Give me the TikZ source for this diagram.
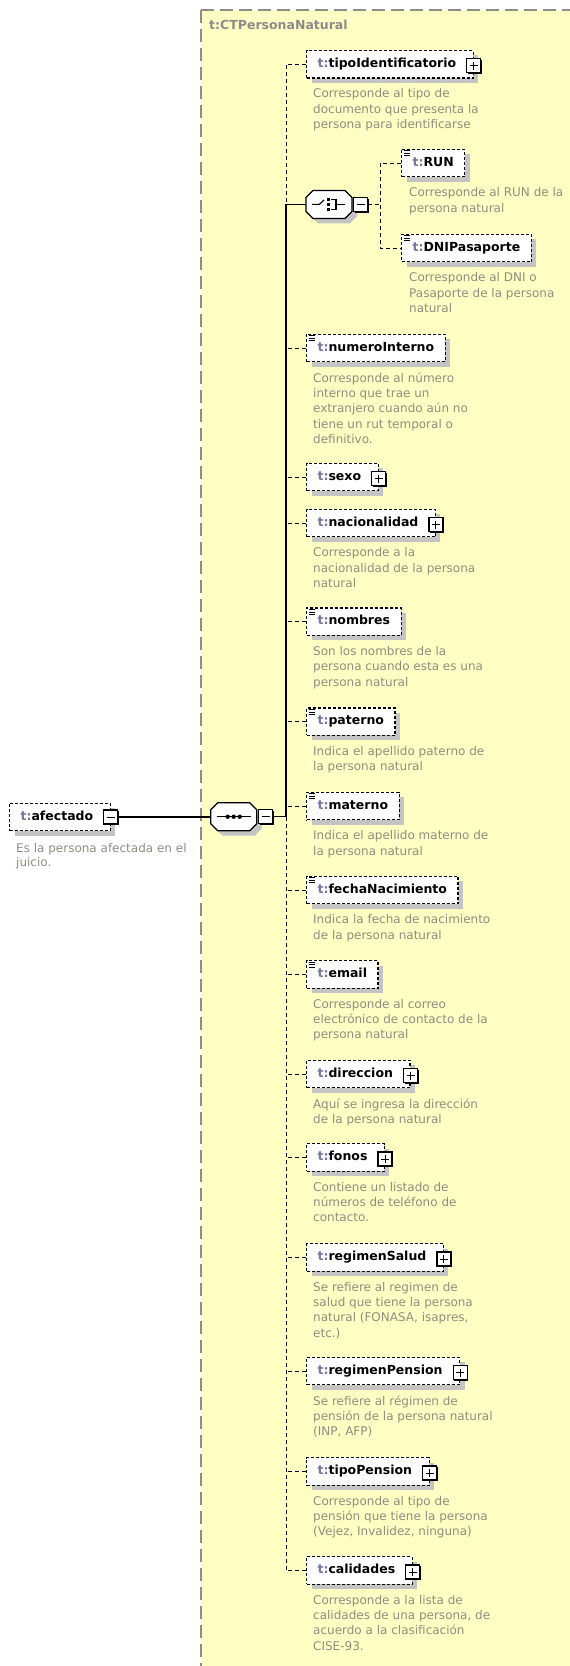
\documentclass[tikz,border=0pt]{standalone}
\usepackage{fontspec}
\setmainfont{DejaVu Sans}
\usepackage{tikz}
\usetikzlibrary{calc,positioning,shadows}
\definecolor{fondo}{HTML}{FFFFC4}
\definecolor{marco}{HTML}{8C8C8C}
\definecolor{prefijo}{HTML}{76769A}
\definecolor{gristexto}{HTML}{8E8E80}
\definecolor{sombra}{HTML}{C4C4C4}
\definecolor{titulo}{HTML}{8A8A8A}
\newcommand\tn[1]{{\color{prefijo}t:}#1}
\newcommand\lineas[1]{%
  \draw[icono] ([shift={(2.5pt,-2.2pt)}]#1.north west) -- ([shift={(8.5pt,-2.2pt)}]#1.north west)
    ([shift={(2.5pt,-4.6pt)}]#1.north west) -- ([shift={(8.5pt,-4.6pt)}]#1.north west)
    ([shift={(2.5pt,-7pt)}]#1.north west) -- ([shift={(8.5pt,-7pt)}]#1.north west);}

\begin{document}
\begin{tikzpicture}[x=1pt,y=-1pt,
    elemento/.style={draw=black, line width=1.1pt, dash pattern=on 3pt off 2pt, fill=white,
      font=\fontsize{12.5}{15}\selectfont\bfseries, inner xsep=11pt, inner ysep=0pt,
      minimum height=27.5pt, text height=9pt, text depth=2.5pt, anchor=west,
      general shadow={fill=sombra, shadow xshift=5pt, shadow yshift=-5pt}},
    conmas/.style={elemento, execute at end node={\hspace{6pt}}},
    icono/.style={line width=1pt, solid},
    nota/.style={anchor=north west, inner sep=0pt, align=left, text=gristexto,
      font=\fontsize{12}{15.3}\selectfont},
    compositor/.style={minimum width=46pt, minimum height=28pt, inner sep=0pt},
    octogono/.style={draw, line width=1.2pt, fill=white,
      general shadow={fill=sombra, shadow xshift=5pt, shadow yshift=-5pt}},
    menos/.style={draw, fill=white, line width=1.2pt, minimum size=14pt, inner sep=0pt,
      general shadow={fill=black, shadow xshift=1.2pt, shadow yshift=-1.2pt},
      path picture={\draw[line width=1pt] ([xshift=3pt]path picture bounding box.west) -- ([xshift=-3pt]path picture bounding box.east);}},
    mas/.style={menos,
      path picture={\draw[line width=1pt] ([xshift=3pt]path picture bounding box.west) -- ([xshift=-3pt]path picture bounding box.east)
        ([yshift=-3pt]path picture bounding box.north) -- ([yshift=3pt]path picture bounding box.south);}},
    linea/.style={line width=1.2pt},
    guion/.style={line width=1pt, dash pattern=on 4pt off 3pt}]
  \useasboundingbox (0,0) rectangle (570,1666);
  \fill[fondo] (201,10) rectangle (570,1666);
  \draw[marco, line width=1.2pt, dash pattern=on 13pt off 6pt] (201,10) -- (570,10);
  \draw[marco, line width=1.2pt, dash pattern=on 13pt off 6pt] (201,10) -- (201,1666);
  \node[anchor=west, inner sep=0pt, text=titulo, font=\fontsize{12.5}{15}\selectfont\bfseries] (tipoCT) at (209,25) {t:CTPersonaNatural};
  \coordinate (eje) at (286,0);
  \coordinate (rama) at (380,0);

  \node[conmas] (afectado) at (9,817) {\tn{afectado}};
  \node[menos] (afectadoM) at (afectado.east) {};
  \node[nota, font=\fontsize{12}{14}\selectfont] (afectadoD) at (16,843) {Es la persona afectada en el\\juicio.};

  \node[compositor] (sec) at (233.7,816.7) {};
  \draw[octogono, shift={(sec.center)}] (-16,-14) -- (16,-14) -- (23,-7) -- (23,7) -- (16,14) -- (-16,14) -- (-23,7) -- (-23,-7) -- cycle;
  \node[menos, anchor=west] (secM) at ([xshift=1pt]sec.east) {};
  \draw[linea] ([xshift=-17pt]sec.center) -- ([xshift=17pt]sec.center);
  \fill ([xshift=-6pt]sec.center) circle (2.2);
  \fill (sec.center) circle (2.2);
  \fill ([xshift=6pt]sec.center) circle (2.2);

  \node[compositor] (elec) at (329,204.4) {};
  \draw[octogono, shift={(elec.center)}] (-16,-14) -- (16,-14) -- (23,-7) -- (23,7) -- (16,14) -- (-16,14) -- (-23,7) -- (-23,-7) -- cycle;
  \node[menos, anchor=west] (elecM) at ([xshift=1pt]elec.east) {};
  \begin{scope}[shift={(elec.center)}, line width=1.1pt]
    \draw (-17,0) -- (-9.7,0) -- (-5,-4.4);
    \fill (-2,-6.2) rectangle (0.6,-3.6);
    \fill (-2,-1.3) rectangle (0.6,1.3);
    \fill (-2,3.6) rectangle (0.6,6.2);
    \draw (2,-5) -- (7,-5) -- (7,5) -- (2,5);
    \draw (7,0) -- (16,0);
  \end{scope}

  \node[conmas] (tipo) at (306,64.2) {\tn{tipoIdentificatorio}};
  \node[mas] (tipoM) at ([yshift=-1.5pt]tipo.east) {};
  \node[nota] (tipoD) at (313,88.5) {Corresponde al tipo de\\documento que presenta la\\persona para identificarse};

  \node[elemento] (run) at (401,163) {\tn{RUN}};
  \lineas{run}
  \node[nota] (runD) at (409,187.5) {Corresponde al RUN de la\\persona natural};

  \node[elemento] (dni) at (401,248) {\tn{DNIPasaporte}};
  \lineas{dni}
  \node[nota] (dniD) at (409,272.5) {Corresponde al DNI o\\Pasaporte de la persona\\natural};

  \node[elemento] (numero) at (306,348) {\tn{numeroInterno}};
  \lineas{numero}
  \node[nota] (numeroD) at (313,372.5) {Corresponde al número\\interno que trae un\\extranjero cuando aún no\\tiene un rut temporal o\\definitivo.};

  \node[conmas] (sexo) at (306,477) {\tn{sexo}};
  \node[mas] (sexoM) at ([yshift=-1.5pt]sexo.east) {};

  \node[conmas] (nacion) at (306,523) {\tn{nacionalidad}};
  \node[mas] (nacionM) at ([yshift=-1.5pt]nacion.east) {};
  \node[nota] (nacionD) at (313,547.5) {Corresponde a la\\nacionalidad de la persona\\natural};

  \node[elemento] (nombres) at (306,621.7) {\tn{nombres}};
  \lineas{nombres}
  \node[nota] (nombresD) at (313,646.2) {Son los nombres de la\\persona cuando esta es una\\persona natural};

  \node[elemento] (paterno) at (306,721.7) {\tn{paterno}};
  \lineas{paterno}
  \node[nota] (paternoD) at (313,746.2) {Indica el apellido paterno de\\la persona natural};

  \node[elemento] (materno) at (306,806) {\tn{materno}};
  \lineas{materno}
  \node[nota] (maternoD) at (313,830.5) {Indica el apellido materno de\\la persona natural};

  \node[elemento] (fecha) at (306,890) {\tn{fechaNacimiento}};
  \lineas{fecha}
  \node[nota] (fechaD) at (313,914.5) {Indica la fecha de nacimiento\\de la persona natural};

  \node[elemento] (email) at (306,974.5) {\tn{email}};
  \lineas{email}
  \node[nota] (emailD) at (313,999) {Corresponde al correo\\electrónico de contacto de la\\persona natural};

  \node[conmas] (direccion) at (306,1074) {\tn{direccion}};
  \node[mas] (direccionM) at ([yshift=-1.5pt]direccion.east) {};
  \node[nota] (direccionD) at (313,1098.5) {Aquí se ingresa la dirección\\de la persona natural};

  \node[conmas] (fonos) at (306,1157.5) {\tn{fonos}};
  \node[mas] (fonosM) at ([yshift=-1.5pt]fonos.east) {};
  \node[nota] (fonosD) at (313,1182) {Contiene un listado de\\números de teléfono de\\contacto.};

  \node[conmas] (salud) at (306,1257.5) {\tn{regimenSalud}};
  \node[mas] (saludM) at ([yshift=-1.5pt]salud.east) {};
  \node[nota] (saludD) at (313,1282) {Se refiere al regimen de\\salud que tiene la persona\\natural (FONASA, isapres,\\etc.)};

  \node[conmas] (pension) at (306,1371) {\tn{regimenPension}};
  \node[mas] (pensionM) at ([yshift=-1.5pt]pension.east) {};
  \node[nota] (pensionD) at (313,1395.5) {Se refiere al régimen de\\pensión de la persona natural\\(INP, AFP)};

  \node[conmas] (tipopension) at (306,1471.5) {\tn{tipoPension}};
  \node[mas] (tipopensionM) at ([yshift=-1.5pt]tipopension.east) {};
  \node[nota] (tipopensionD) at (313,1496) {Corresponde al tipo de\\pensión que tiene la persona\\(Vejez, Invalidez, ninguna)};

  \node[conmas] (calidades) at (306,1570.5) {\tn{calidades}};
  \node[mas] (calidadesM) at ([yshift=-1.5pt]calidades.east) {};
  \node[nota] (calidadesD) at (313,1595) {Corresponde a la lista de\\calidades de una persona, de\\acuerdo a la clasificación\\CISE-93.};

  \draw[linea] (afectadoM.east) -- (afectadoM.east -| sec.west);
  \draw[linea] (secM.east) -- (eje |- secM.east);
  \draw[guion] (tipo.west) -| (eje |- elec.west);
  \draw[linea] (elec.west) -| (eje |- secM.east);
  \draw[guion] (eje |- secM.east) |- (calidades.west);
  \draw[guion] (elecM.east) -- (rama |- elecM.east);
  \draw[guion] (run.west) -| (rama |- dni.west) -- (dni.west);
  \draw[guion] (numero.west) -- (eje |- numero.west);
  \draw[guion] (sexo.west) -- (eje |- sexo.west);
  \draw[guion] (nacion.west) -- (eje |- nacion.west);
  \draw[guion] (nombres.west) -- (eje |- nombres.west);
  \draw[guion] (paterno.west) -- (eje |- paterno.west);
  \draw[guion] (materno.west) -- (eje |- materno.west);
  \draw[guion] (fecha.west) -- (eje |- fecha.west);
  \draw[guion] (email.west) -- (eje |- email.west);
  \draw[guion] (direccion.west) -- (eje |- direccion.west);
  \draw[guion] (fonos.west) -- (eje |- fonos.west);
  \draw[guion] (salud.west) -- (eje |- salud.west);
  \draw[guion] (pension.west) -- (eje |- pension.west);
  \draw[guion] (tipopension.west) -- (eje |- tipopension.west);
\end{tikzpicture}
\end{document}
